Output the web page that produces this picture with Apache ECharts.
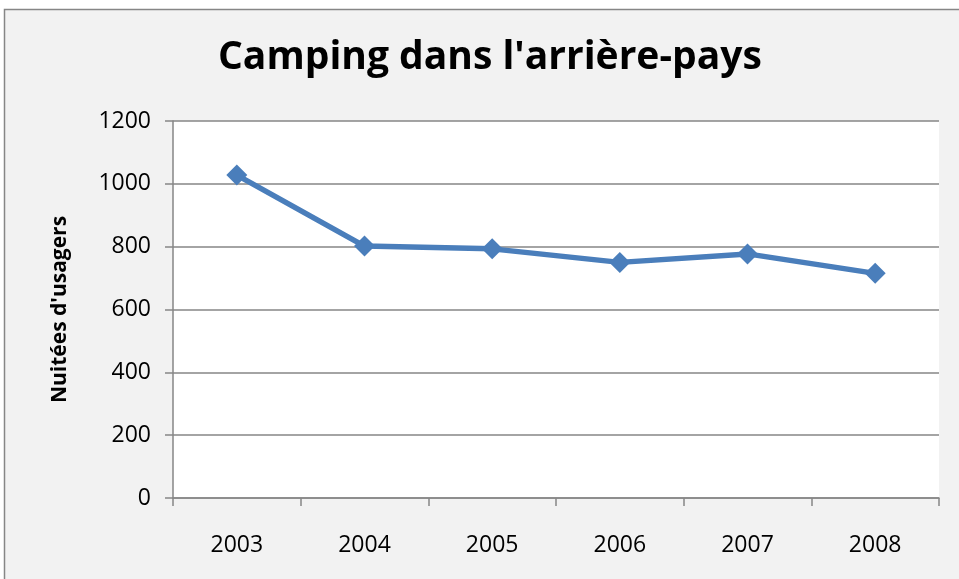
<!DOCTYPE html>
<html>
<head>
    <meta charset="utf-8">
    <title>Camping dans l'arrière-pays</title>
    <script src="https://cdn.jsdelivr.net/npm/echarts@6/dist/echarts.min.js"></script>
    <style>
        html, body { margin: 0; padding: 0; background: #ffffff; }
        #main { width: 959px; height: 579px; }
    </style>
</head>
<body>
<div id="main"></div>
<script>
    // données
    var annees = ['2003', '2004', '2005', '2006', '2007', '2008'];
    var nuitees = [1028, 802, 793, 750, 777, 715];
    var yTicks = [0, 200, 400, 600, 800, 1000, 1200];

    var police = '"Open Sans", "Noto Sans", sans-serif';
    var gris = '#868686';

    var myChart = echarts.init(document.getElementById('main'));
    var option = {
        backgroundColor: '#ffffff',
        animation: false,
        graphic: [
            {
                type: 'rect',
                z: -10,
                shape: { x: 4.5, y: 9.5, width: 1000, height: 1000 },
                style: { fill: '#f2f2f2', stroke: gris, lineWidth: 1.5 }
            }
        ],
        title: {
            text: "Camping dans l'arrière-pays",
            left: 213,
            top: 33,
            textStyle: {
                fontFamily: police,
                fontWeight: 'bold',
                fontSize: 39,
                color: '#000000'
            }
        },
        grid: {
            left: 173,
            right: 20,
            top: 121,
            bottom: 81,
            show: true,
            backgroundColor: '#ffffff',
            borderWidth: 0
        },
        xAxis: {
            type: 'category',
            data: annees,
            boundaryGap: true,
            axisLine: { lineStyle: { color: gris, width: 1.5 } },
            axisTick: { show: true, length: 8, alignWithLabel: false, lineStyle: { color: gris, width: 1.5 } },
            axisLabel: { color: '#000000', fontFamily: police, fontSize: 23, margin: 36 },
            splitLine: { show: false }
        },
        yAxis: {
            type: 'value',
            min: yTicks[0],
            max: yTicks[yTicks.length - 1],
            interval: 200,
            name: "Nuitées d'usagers",
            nameLocation: 'middle',
            nameRotate: 90,
            nameGap: 102,
            nameTextStyle: {
                color: '#000000',
                fontFamily: police,
                fontWeight: 'bold',
                fontSize: 21
            },
            axisLine: { show: true, lineStyle: { color: gris, width: 1.5 } },
            axisTick: { show: true, length: 8, lineStyle: { color: gris, width: 1.5 } },
            axisLabel: {
                color: '#000000',
                fontFamily: police,
                fontSize: 23,
                margin: 22,
                formatter: function (v) { return String(v); }
            },
            splitLine: { show: true, lineStyle: { color: gris, width: 1.5 } }
        },
        series: [
            {
                name: 'Nuitées',
                type: 'line',
                data: nuitees,
                symbol: 'diamond',
                symbolSize: 21,
                itemStyle: { color: '#4a7ebb' },
                lineStyle: { color: '#4a7ebb', width: 5.5 }
            }
        ]
    };
    myChart.setOption(option);
</script>
</body>
</html>
